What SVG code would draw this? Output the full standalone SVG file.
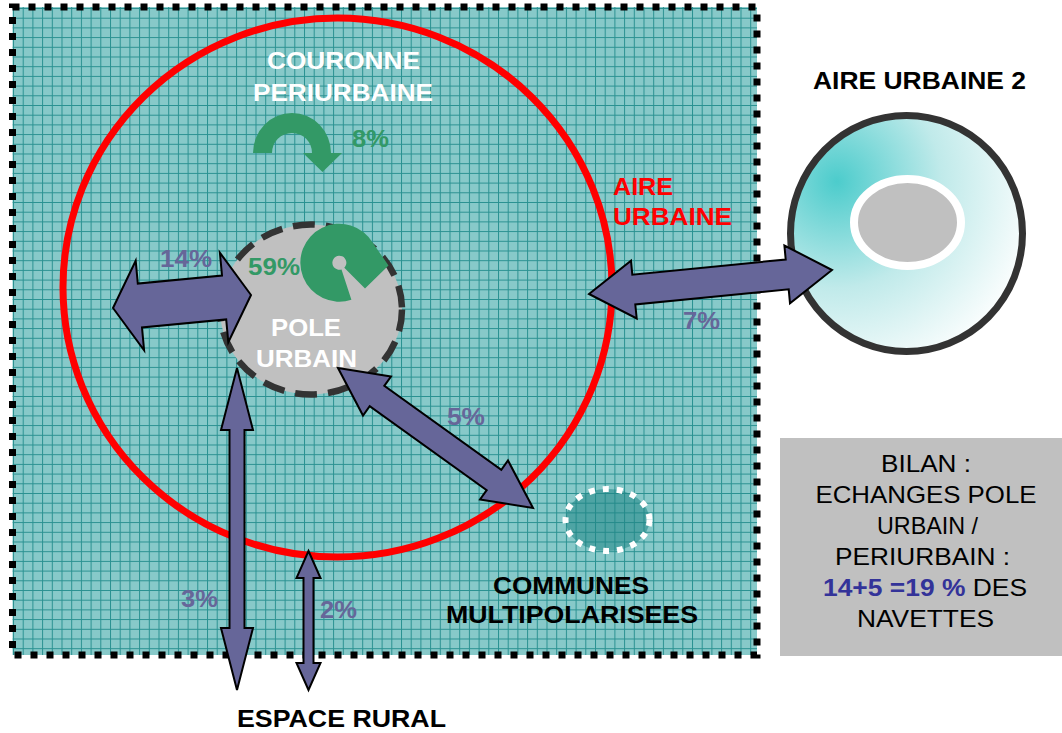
<svg xmlns="http://www.w3.org/2000/svg" width="1062" height="733" viewBox="0 0 1062 733">
<defs>
<pattern id="grid" x="13" y="8" width="9.7" height="9.7" patternUnits="userSpaceOnUse">
<rect width="9.7" height="9.7" fill="#87c9c9"/>
<path d="M0 0.5H9.7M0.5 0V9.7" stroke="#2a9191" stroke-width="1"/>
</pattern>
<radialGradient id="disc" cx="0.2" cy="0.28" r="0.9">
<stop offset="0" stop-color="#4ccccc"/>
<stop offset="0.5" stop-color="#c0eaea"/>
<stop offset="1" stop-color="#ffffff"/>
</radialGradient>
<style>
.b{font-family:"Liberation Sans",Arial,sans-serif;font-weight:bold;font-size:24px}
.r{font-family:"Liberation Sans",Arial,sans-serif;font-size:24px}
.w{fill:#ffffff}
.g{fill:#339966}
.p{fill:#666699}
.k{fill:#000000}
.red{fill:#ff0000}
.arrow{fill:#666699;stroke:#000000;stroke-width:2;stroke-linejoin:miter}
</style>
</defs>
<rect width="1062" height="733" fill="#ffffff"/>

<g id="zone">
<rect x="12.5" y="7" width="744.5" height="648" fill="url(#grid)"/>
</g>

<g id="aire-urbaine">
<ellipse cx="337.5" cy="287.5" rx="274.5" ry="269.5" fill="none" stroke="#ff0000" stroke-width="7"/>
<text class="b red" x="613" y="195" textLength="60" lengthAdjust="spacingAndGlyphs">AIRE</text>
<text class="b red" x="613" y="225" textLength="119" lengthAdjust="spacingAndGlyphs">URBAINE</text>
</g>

<g id="couronne">
<text class="b w" x="267" y="69" textLength="153" lengthAdjust="spacingAndGlyphs">COURONNE</text>
<text class="b w" x="253" y="101" textLength="180" lengthAdjust="spacingAndGlyphs">PERIURBAINE</text>
<path class="g" d="M253,153 A39,40 0 0 1 331,153 L342,153 L322.5,172 L303,153 L312,153 A20,20 0 0 0 272,153 Z"/>
<text class="b g" x="352" y="147" textLength="37" lengthAdjust="spacingAndGlyphs">8%</text>
</g>

<g id="pole-urbain">
<ellipse cx="311" cy="309.5" rx="91" ry="85" fill="#c0c0c0" stroke="#333333" stroke-width="6.5" stroke-dasharray="22 11"/>
<path class="g" d="M341.5,269.4 L351.4,299.8 A39,39 0 1 1 373.1,243.2 L388.5,265.5 L365,288.5 L344.3,267.7 A7,7 0 1 0 341.5,269.4 Z"/>
<text class="b g" x="248" y="275" textLength="52" lengthAdjust="spacingAndGlyphs">59%</text>
<text class="b w" x="271" y="336" textLength="70" lengthAdjust="spacingAndGlyphs">POLE</text>
<text class="b w" x="256" y="367" textLength="101" lengthAdjust="spacingAndGlyphs">URBAIN</text>
</g>

<g id="communes">
<ellipse cx="607.5" cy="520" rx="42" ry="31" fill="#1f8585" fill-opacity="0.55" stroke="#ffffff" stroke-width="6" stroke-dasharray="6 8"/>
<text class="b k" x="493" y="594" textLength="156" lengthAdjust="spacingAndGlyphs">COMMUNES</text>
<text class="b k" x="446" y="623" textLength="252" lengthAdjust="spacingAndGlyphs">MULTIPOLARISEES</text>
</g>

<g id="aire-urbaine-2">
<text class="b k" x="813" y="89" textLength="213" lengthAdjust="spacingAndGlyphs">AIRE URBAINE 2</text>
<ellipse cx="906.5" cy="233.5" rx="116" ry="118" fill="url(#disc)" stroke="#333333" stroke-width="7"/>
<ellipse cx="907.5" cy="222.5" rx="53.5" ry="43.5" fill="#c0c0c0" stroke="#ffffff" stroke-width="8"/>
</g>

<g id="border">
<rect x="12.5" y="7" width="744.5" height="648" fill="none" stroke="#000000" stroke-width="7" stroke-dasharray="7 9"/>
</g>

<g id="connectors">
<polygon class="arrow" points="113,308 135.7,260.7 137.8,283.6 222,275.6 219.9,252.7 251,295 228.3,342.3 226.2,319.4 142,327.4 144.1,350.3"/>
<polygon class="arrow" points="589,294 631,260.7 632.3,274.7 785.7,259.5 784.4,245.5 832,270 790,303.3 788.7,289.3 635.3,304.5 636.7,318.5"/>
<polygon class="arrow" points="338,368 391,376.5 384.3,385.8 501.3,469.8 508,460.5 533,508 480,499.5 486.7,490.2 369.7,406.2 363,415.5"/>
<polygon class="arrow" points="237,368 253,430 244.5,430 244.5,628 253,628 237,690 221,628 229.5,628 229.5,430 221,430"/>
<polygon class="arrow" points="308.5,551 320.5,578 313.5,578 313.5,663 320.5,663 308.5,690 296.5,663 303.5,663 303.5,578 296.5,578"/>
<text class="b p" x="160" y="267" textLength="52" lengthAdjust="spacingAndGlyphs">14%</text>
<text class="b p" x="683" y="329" textLength="37" lengthAdjust="spacingAndGlyphs">7%</text>
<text class="b p" x="447" y="425" textLength="38" lengthAdjust="spacingAndGlyphs">5%</text>
<text class="b p" x="181" y="607" textLength="37" lengthAdjust="spacingAndGlyphs">3%</text>
<text class="b p" x="320" y="618" textLength="37" lengthAdjust="spacingAndGlyphs">2%</text>
</g>

<g id="espace-rural">
<text class="b k" x="237" y="727" textLength="209" lengthAdjust="spacingAndGlyphs">ESPACE RURAL</text>
</g>

<g id="bilan">
<rect x="780" y="438" width="282" height="218" fill="#c0c0c0"/>
<text class="r k" x="926" y="472" text-anchor="middle" textLength="90" lengthAdjust="spacingAndGlyphs">BILAN :</text>
<text class="r k" x="926" y="503" text-anchor="middle" textLength="221" lengthAdjust="spacingAndGlyphs">ECHANGES POLE</text>
<text class="r k" x="927.5" y="534" text-anchor="middle" textLength="101" lengthAdjust="spacingAndGlyphs">URBAIN /</text>
<text class="r k" x="922.5" y="565" text-anchor="middle" textLength="175" lengthAdjust="spacingAndGlyphs">PERIURBAIN :</text>
<text class="r k" x="925" y="596" text-anchor="middle" textLength="204" lengthAdjust="spacingAndGlyphs"><tspan font-weight="bold" fill="#333399">14+5 =19 %</tspan> DES</text>
<text class="r k" x="925.5" y="627" text-anchor="middle" textLength="137" lengthAdjust="spacingAndGlyphs">NAVETTES</text>
</g>
</svg>
